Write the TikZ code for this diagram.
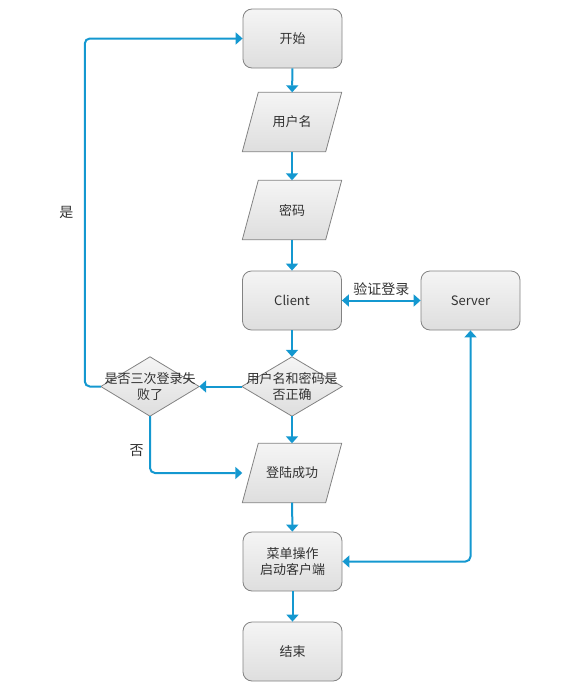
\documentclass[tikz,border=0pt]{standalone}
\usepackage{fontspec}
\setmainfont{Noto Sans CJK SC}
\usetikzlibrary{arrows.meta,calc,backgrounds}
\definecolor{flow}{RGB}{20,152,208}
\definecolor{edgegray}{RGB}{130,130,130}
\definecolor{txtgray}{RGB}{50,50,50}
\tikzset{
  boxshade/.style={top color=white!96!black, bottom color=white!87!black, draw=edgegray, line width=0.8pt},
  roundbox/.style={boxshade, rounded corners=9pt, minimum width=99pt, minimum height=59pt, inner sep=0pt, align=center, font=\fontsize{13}{15.5}\selectfont, text=txtgray},
  frame/.style={minimum width=99pt, minimum height=59pt, inner sep=0pt, align=center, font=\fontsize{13}{15.5}\selectfont, text=txtgray},
  flowline/.style={draw=flow, line width=2pt, -{Triangle[width=12pt,length=7pt]}, rounded corners=5pt},
  lbl/.style={font=\fontsize{14}{16}\selectfont, text=txtgray}
}
\begin{document}
\begin{tikzpicture}[x=1pt,y=-1pt]
\useasboundingbox (0,0) rectangle (586,688);
\node[roundbox] (start) at (292.5,38.5) {开始};
\node[frame] (user) at (292,122) {用户名};
\node[frame] (pwd) at (292,210) {密码};
\node[roundbox] (client) at (292,300.5) {Client};
\node[roundbox] (server) at (470.5,300.5) {Server};
\node[frame, minimum width=100pt] (d1) at (292,386.5) {用户名和密码是\\否正确};
\node[frame, minimum width=98pt] (d2) at (150,386.5) {是否三次登录失\\败了};
\node[frame] (login) at (292,473) {登陆成功};
\node[roundbox] (menu) at (292.5,561.5) {菜单操作\\启动客户端};
\node[roundbox] (end) at (292.5,651.5) {结束};
\begin{scope}[on background layer]
  \foreach \n in {user,pwd,login}{
    \draw[boxshade] (\n.south west) -- ($(\n.north west)+(16,0)$) -- (\n.north east) -- ($(\n.south east)+(-16,0)$) -- cycle;
  }
  \foreach \n in {d1,d2}{
    \draw[boxshade] (\n.north) -- (\n.east) -- (\n.south) -- (\n.west) -- cycle;
  }
\end{scope}
\draw[flowline] (start) -- (user);
\draw[flowline] (user) -- (pwd);
\draw[flowline] (pwd) -- (client);
\draw[flowline] (client) -- (d1);
\draw[flowline] (d1) -- (login);
\draw[flowline] (login) -- (menu);
\draw[flowline] (menu) -- (end);
\draw[flowline, {Triangle[width=12pt,length=7pt]}-{Triangle[width=12pt,length=7pt]}] (client) -- node[lbl, above=1pt] (vlbl) {验证登录} (server);
\draw[flowline] (d1.west) -- (d2.east);
\draw[flowline] (d2.west) -- ++(-16,0) |- node[lbl, pos=0.25, left=7pt] (yes) {是} (start.west);
\draw[flowline] (d2.south) |- node[lbl, pos=0.3, left=2pt] (no) {否} (login.west);
\draw[flowline, {Triangle[width=12pt,length=7pt]}-{Triangle[width=12pt,length=7pt]}] (menu.east) -| (server.south);
\end{tikzpicture}
\end{document}
